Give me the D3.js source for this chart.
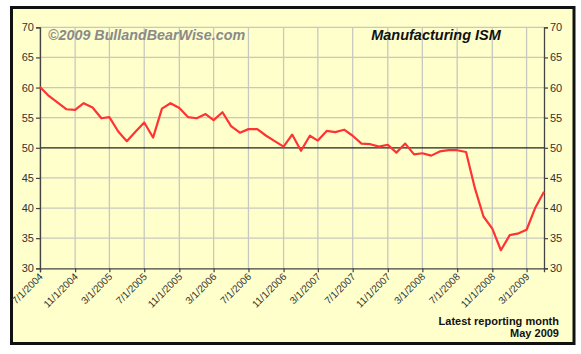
<!DOCTYPE html>
<html>
<head>
<meta charset="utf-8">
<script src="https://cdn.jsdelivr.net/npm/d3@7/dist/d3.min.js"></script>
<style>
  html, body { margin: 0; padding: 0; background: #ffffff; }
  svg { display: block; }
  text { font-family: Arial, "Liberation Sans", sans-serif; }
</style>
</head>
<body>
<script>
// ---- DATA ----
const firstMonth = "2004-07-01";
const lastMonth = "2009-05-01";
const ismValues = [
  60.1, 58.6, 57.5, 56.4, 56.3, 57.4,
  56.7, 54.9, 55.1, 52.7, 51.1, 52.7, 54.2, 51.7, 56.5, 57.4, 56.6, 55.1,
  54.9, 55.6, 54.6, 55.9, 53.6, 52.5, 53.1, 53.1, 52.0, 51.1, 50.2, 52.2,
  49.5, 52.0, 51.2, 52.8, 52.6, 53.0, 52.0, 50.7, 50.6, 50.2, 50.5, 49.2,
  50.7, 48.9, 49.1, 48.7, 49.4, 49.6, 49.6, 49.3, 43.3, 38.6, 36.6, 33.0,
  35.5, 35.8, 36.4, 40.1, 42.7
];
const xTickLabels = ["7/1/2004","11/1/2004","3/1/2005","7/1/2005","11/1/2005","3/1/2006",
  "7/1/2006","11/1/2006","3/1/2007","7/1/2007","11/1/2007","3/1/2008","7/1/2008",
  "11/1/2008","3/1/2009"];
const yTicks = [30, 35, 40, 45, 50, 55, 60, 65, 70];
const titleText = "Manufacturing ISM";
const watermarkText = "\u00A92009 BullandBearWise.com";
const noteLines = ["Latest reporting month", "May 2009"];

// ---- CHART ----
(function () {
const W = 581, H = 354;
const svg = d3.select("body").append("svg").attr("width", W).attr("height", H);

const parseISO = d3.timeParse("%Y-%m-%d");
const parseUS = d3.timeParse("%m/%d/%Y");
const startDate = parseISO(firstMonth), endDate = parseISO(lastMonth);
const months = d3.timeMonth.range(startDate, d3.timeMonth.offset(endDate, 1));
const data = months.map((d, i) => ({ date: d, value: ismValues[i] }));

const pL = 40, pR = 544, pT = 27.3, pB = 268.3;
const x = d3.scaleTime().domain([startDate, endDate]).range([pL, pR]);
const y = d3.scaleLinear().domain([30, 70]).range([pB, pT]);

// background panel with border
svg.append("rect").attr("x", 11.5).attr("y", 7.5).attr("width", 562.5).attr("height", 336)
  .attr("fill", "#ffffcc").attr("stroke", "#111").attr("stroke-width", 3);

// gridlines
const tickDates = xTickLabels.map(parseUS);
svg.append("g").selectAll("line").data(tickDates).join("line")
  .attr("x1", d => x(d)).attr("x2", d => x(d)).attr("y1", pT).attr("y2", pB)
  .attr("stroke", "#c8c8c0").attr("stroke-width", 1.3);
svg.append("g").selectAll("line").data(yTicks.filter(v => v !== 30 && v !== 50)).join("line")
  .attr("x1", pL).attr("x2", pR).attr("y1", d => y(d)).attr("y2", d => y(d))
  .attr("stroke", "#c8c8c0").attr("stroke-width", 1.3);
svg.append("line").attr("x1", pL).attr("x2", pR).attr("y1", y(50)).attr("y2", y(50))
  .attr("stroke", "#222").attr("stroke-width", 1.2);

// axes
const fontAxis = 'Arial, "Liberation Sans", sans-serif';
const yl = svg.append("g").attr("transform", `translate(${pL},0)`)
  .call(d3.axisLeft(y).tickValues(yTicks).tickSize(4).tickPadding(2));
const yr = svg.append("g").attr("transform", `translate(${pR},0)`)
  .call(d3.axisRight(y).tickValues(yTicks).tickSize(4).tickPadding(2));
const xa = svg.append("g").attr("transform", `translate(0,${pB})`)
  .call(d3.axisBottom(x).tickValues(tickDates).tickSize(4)
    .tickFormat((d, i) => xTickLabels[i]));
[yl, yr, xa].forEach(g => {
  g.select(".domain").attr("stroke", "#444").attr("stroke-width", 1.3);
  g.selectAll(".tick line").attr("stroke", "#444").attr("stroke-width", 1.2);
  g.selectAll("text").attr("fill", "#333").style("font-family", fontAxis);
});
yl.selectAll("text").style("font-size", "11px");
yr.selectAll("text").style("font-size", "11px");
xa.selectAll("text").style("font-size", "10px")
  .attr("text-anchor", "end").attr("dy", null).attr("y", 0)
  .attr("transform", "translate(3,9) rotate(-45)");

// line
svg.append("path").datum(data)
  .attr("fill", "none").attr("stroke", "#ff3333").attr("stroke-width", 2.2)
  .attr("stroke-linejoin", "round")
  .attr("d", d3.line().x(d => x(d.date)).y(d => y(d.value)));

// texts
svg.append("text").attr("x", 48).attr("y", 40).text(watermarkText)
  .attr("fill", "#8a8a8a").style("font-size", "14.3px").style("font-weight", "bold").style("font-style", "italic");
svg.append("text").attr("x", 436).attr("y", 40).attr("text-anchor", "middle").text(titleText)
  .attr("fill", "#111").style("font-size", "14.5px").style("font-weight", "bold").style("font-style", "italic");
svg.append("g").selectAll("text").data(noteLines).join("text")
  .attr("x", 559).attr("y", (d, i) => 325 + i * 12).attr("text-anchor", "end")
  .attr("fill", "#111").style("font-size", "11px").style("font-weight", "bold").text(d => d);
})();
</script>
</body>
</html>
